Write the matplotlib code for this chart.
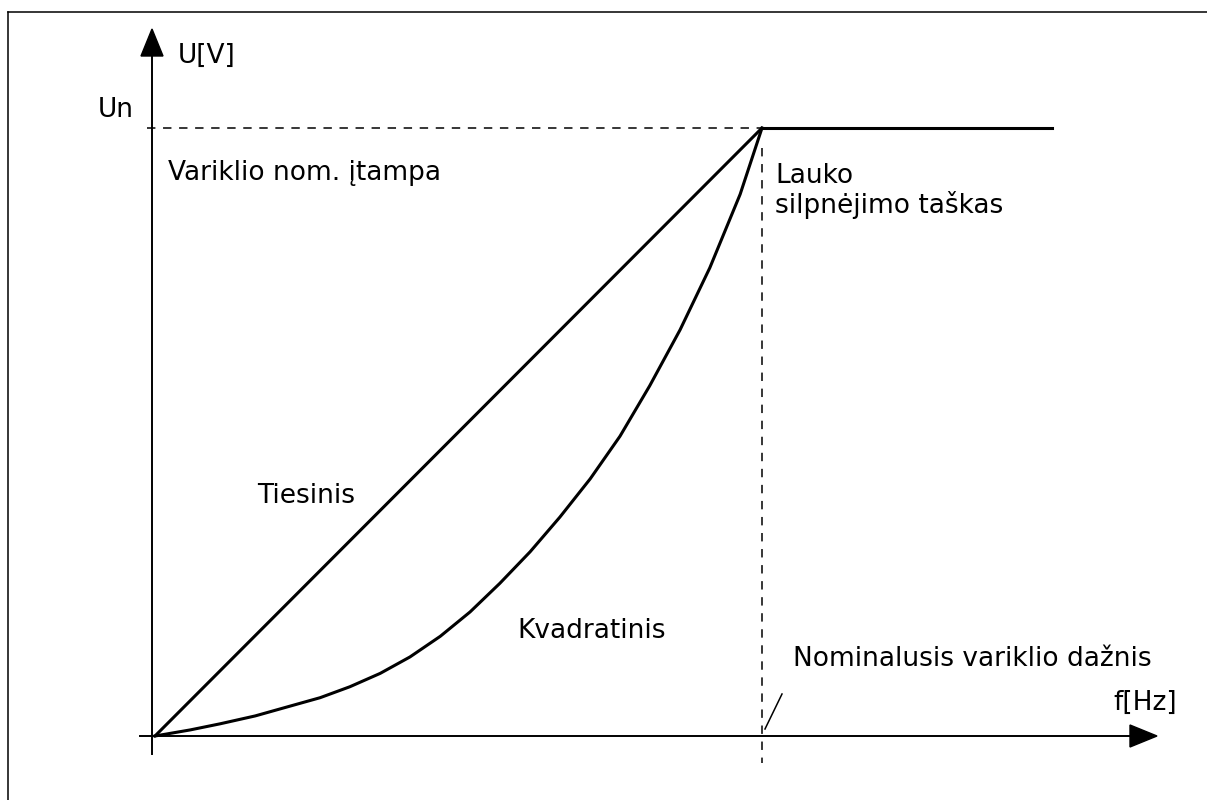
import matplotlib
matplotlib.use("Agg")
import matplotlib.pyplot as plt
from matplotlib.patches import Polygon

# f and U in % of nominal values
f_lin = [0, 100]
u_lin = [0, 100]

f_quad = [0, 5.8, 10.7, 16.5, 22.2, 27.2, 32.1, 37.1, 42.0, 47.0, 51.9,
          56.8, 61.8, 66.7, 71.7, 76.6, 81.5, 86.5, 91.4, 96.4, 100]
u_quad = [0, 1.0, 2.0, 3.3, 4.9, 6.3, 8.1, 10.3, 13.0, 16.4, 20.4,
          25.1, 30.3, 36.0, 42.3, 49.3, 57.6, 66.8, 77.0, 89.1, 100]

f_flat = [100, 147.8]
u_flat = [100, 100]

labels = {
    'ylab': 'U[V]',
    'xlab': 'f[Hz]',
    'un': 'Un',
    'nom_u': 'Variklio nom. įtampa',
    'fw1': 'Lauko',
    'fw2': 'silpnėjimo taškas',
    'lin': 'Tiesinis',
    'quad': 'Kvadratinis',
    'nom_f': 'Nominalusis variklio dažnis',
}

# pixel -> data helpers (origin of the drawing at pixel 155,736)
SX, SY = 6.07, 6.08
def px(x):
    return (x - 155) / SX
def py(y):
    return (736 - y) / SY

fig = plt.figure(figsize=(12.07, 8), dpi=100)
ax = fig.add_axes([0, 0, 1, 1])
ax.set_xlim(px(0), px(1207))
ax.set_ylim(py(800), py(0))
ax.axis('off')

k = 'black'
fs = 19

# outer frame (left and top edges)
ax.plot([px(8), px(8)], [py(12), py(800)], color=k, lw=1.1, clip_on=False)
ax.plot([px(8), px(1207)], [py(12), py(12)], color=k, lw=1.1, clip_on=False)

# axes with arrows
ax.plot([px(152), px(152)], [py(754), py(56)], color=k, lw=1.4)
ax.add_patch(Polygon([[px(141), py(56)], [px(163), py(56)], [px(152), py(29)]],
                     closed=True, color=k))
ax.plot([px(140), px(1130)], [py(736), py(736)], color=k, lw=1.4)
ax.add_patch(Polygon([[px(1130), py(725)], [px(1130), py(747)], [px(1157), py(736)]],
                     closed=True, color=k))

# dashed guides
dash = (0, (5.5, 5))
ax.plot([px(147), 100], [100, 100], color=k, lw=1.1, linestyle=dash)
ax.plot([100, 100], [py(148), py(763)], color=k, lw=1.1, linestyle=dash)

# curves
ax.plot(f_lin, u_lin, color=k, lw=2.2, solid_capstyle='round')
ax.plot(f_quad, u_quad, color=k, lw=2.2, solid_joinstyle='round')
ax.plot(f_flat, u_flat, color=k, lw=2.2)

# small slash marker
ax.plot([px(765), px(782)], [py(729), py(694)], color=k, lw=1.1)

# texts
ax.text(px(178), py(63), labels['ylab'], fontsize=fs, va='baseline')
ax.text(px(98), py(117), labels['un'], fontsize=fs, va='baseline')
ax.text(px(168), py(180), labels['nom_u'], fontsize=fs, va='baseline')
ax.text(px(775), py(183), labels['fw1'], fontsize=fs, va='baseline')
ax.text(px(775), py(213), labels['fw2'], fontsize=fs, va='baseline')
ax.text(px(257), py(503), labels['lin'], fontsize=fs, va='baseline')
ax.text(px(517), py(638), labels['quad'], fontsize=fs, va='baseline')
ax.text(px(793), py(666), labels['nom_f'], fontsize=fs, va='baseline')
ax.text(px(1113), py(710), labels['xlab'], fontsize=fs, va='baseline')

fig.savefig('out.png', dpi=100)
